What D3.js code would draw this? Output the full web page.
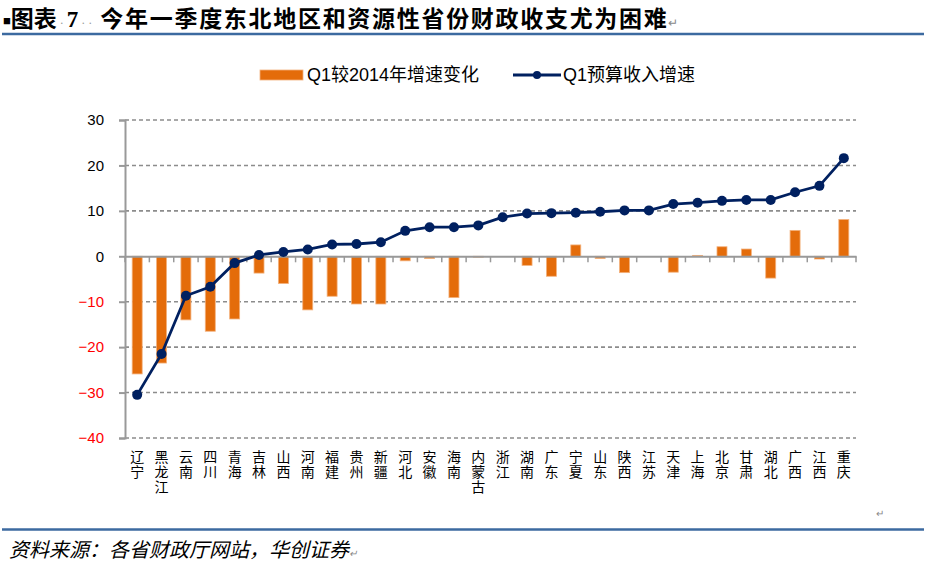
<!DOCTYPE html>
<html><head><meta charset="utf-8">
<script src="https://cdn.jsdelivr.net/npm/d3@7"></script>
<style>
html,body{margin:0;padding:0;background:#fff;}
svg{display:block;}
</style></head>
<body>
<svg id="c" width="926" height="562"></svg>
<script>
const provinces = ["辽宁","黑龙江","云南","四川","青海","吉林","山西","河南","福建","贵州","新疆","河北","安徽","海南","内蒙古","浙江","湖南","广东","宁夏","山东","陕西","江苏","天津","上海","北京","甘肃","湖北","广西","江西","重庆"];
const changeVs2014 = [-25.9,-23.5,-14.0,-16.5,-13.8,-3.7,-6.0,-11.8,-8.8,-10.5,-10.5,-1.0,-0.5,-9.1,-0.2,0,-2.0,-4.4,2.5,-0.5,-3.6,0,-3.5,0.2,2.1,1.6,-4.8,5.7,-0.6,8.1];
const budgetGrowth = [-30.5,-21.5,-8.7,-6.7,-1.5,0.3,0.95,1.5,2.6,2.7,3.1,5.6,6.4,6.4,6.8,8.6,9.4,9.5,9.6,9.8,10.1,10.1,11.5,11.8,12.2,12.4,12.4,14.1,15.5,21.6];
const yTicks = [30,20,10,0,-10,-20,-30,-40];
const seriesNames = ["Q1较2014年增速变化","Q1预算收入增速"];
const titleText = "今年一季度东北地区和资源性省份财政收支尤为困难";
const sourceText = "资料来源：各省财政厅网站，华创证券";

const svg = d3.select("#c");
const CJK = "'Liberation Sans', Arial, 'Noto Sans CJK SC', sans-serif";

// Title
const t = svg.append("text").attr("x",3).attr("y",27)
  .attr("font-family","'Liberation Serif','Noto Sans CJK SC',serif").attr("font-size",23).attr("fill","#000");
t.append("tspan").attr("font-size",13).attr("dy",-2).text("■");
t.append("tspan").attr("dy",2).attr("font-family","'Noto Sans CJK SC'").attr("font-weight","bold").text("图表");
t.append("tspan").attr("fill","#999").attr("font-size",12).attr("dx",3).text("·");
t.append("tspan").attr("font-weight","bold").attr("dx",3).text("7");
t.append("tspan").attr("fill","#999").attr("font-size",12).attr("dx",3).attr("letter-spacing",3).text("··");
t.append("tspan").attr("font-family","'Noto Sans CJK SC'").attr("font-weight","bold").attr("dx",5).attr("letter-spacing",1.7).text(titleText);
t.append("tspan").attr("fill","#888").attr("font-size",12).text("↵");

svg.append("line").attr("x1",2).attr("x2",924).attr("y1",34).attr("y2",34)
  .attr("stroke","#3C6AA0").attr("stroke-width",2.5);
svg.append("line").attr("x1",2).attr("x2",924).attr("y1",529.5).attr("y2",529.5)
  .attr("stroke","#3C6AA0").attr("stroke-width",2.5);
svg.append("text").attr("x",876).attr("y",517).attr("font-size",10).attr("fill","#888").text("↵");

const src = svg.append("text").attr("x",9).attr("y",557)
  .attr("font-family","'Noto Sans CJK SC'").attr("font-size",20).attr("font-style","italic");
src.append("tspan").text(sourceText);
src.append("tspan").attr("fill","#888").attr("font-size",10).text("↵");

// Scales
const plot = {left:125, right:856, top:120, bottom:438};
const x = d3.scaleBand().domain(provinces).range([plot.left, plot.right]).padding(0);
const y = d3.scaleLinear().domain([-40,30]).range([plot.bottom, plot.top]);

// gridlines
svg.append("g").selectAll("line").data(yTicks.filter(d=>d!==0)).join("line")
  .attr("x1",plot.left).attr("x2",plot.right)
  .attr("y1",d=>y(d)).attr("y2",d=>y(d))
  .attr("stroke","#8c8c8c").attr("stroke-width",1.6).attr("stroke-dasharray","4,3");

// bars
const bw = 10;
svg.append("g").selectAll("rect").data(provinces).join("rect")
  .attr("x",(d)=>x(d)+x.bandwidth()/2-bw/2)
  .attr("width",bw)
  .attr("y",(d,i)=>y(Math.max(0,changeVs2014[i])))
  .attr("height",(d,i)=>Math.abs(y(changeVs2014[i])-y(0)))
  .attr("fill","#E46C0A").attr("stroke","#F3B27E").attr("stroke-width",0.8);

// y axis
const yAxis = d3.axisLeft(y).tickValues(yTicks).tickSize(6).tickPadding(15).tickFormat(d3.format("d"));
const gy = svg.append("g").attr("transform",`translate(${plot.left},0)`).call(yAxis);
gy.select(".domain").attr("stroke","#999").attr("stroke-width",2);
gy.selectAll(".tick line").attr("stroke","#999").attr("stroke-width",2);
gy.selectAll(".tick text").attr("font-family","'Liberation Sans',Arial,sans-serif").attr("font-size",15)
  .attr("fill",d=>d<0?"#FF0000":"#000");

// x axis at zero
const xAxis = d3.axisBottom(x).tickSize(0).tickFormat("");
const gx = svg.append("g").attr("transform",`translate(0,${y(0)})`).call(xAxis);
gx.select(".domain").attr("stroke","#999").attr("stroke-width",2);
// tick marks between categories
svg.append("g").selectAll("line").data(provinces.concat(["__end"])).join("line")
  .attr("x1",(d,i)=>plot.left + i*x.bandwidth()).attr("x2",(d,i)=>plot.left + i*x.bandwidth())
  .attr("y1",y(0)).attr("y2",y(0)+6)
  .attr("stroke","#999").attr("stroke-width",1.5);

// x labels, vertical upright
svg.append("g").selectAll("text").data(provinces).join("text")
  .attr("x",d=>x(d)+x.bandwidth()/2)
  .attr("y",450)
  .attr("text-anchor","start")
  .style("writing-mode","vertical-rl")
  .style("text-orientation","upright")
  .attr("letter-spacing",1)
  .attr("font-family","'Noto Sans CJK SC'").attr("font-size",14).attr("fill","#000")
  .text(d=>d);

// line
const line = d3.line().x((d,i)=>x(provinces[i])+x.bandwidth()/2).y(d=>y(d));
svg.append("path").datum(budgetGrowth).attr("d",line)
  .attr("fill","none").attr("stroke","#002060").attr("stroke-width",2.8);
svg.append("g").selectAll("circle").data(budgetGrowth).join("circle")
  .attr("cx",(d,i)=>x(provinces[i])+x.bandwidth()/2).attr("cy",d=>y(d)).attr("r",5)
  .attr("fill","#002060");

// legend
const lg = svg.append("g");
lg.append("rect").attr("x",260).attr("y",70).attr("width",43).attr("height",10).attr("fill","#E46C0A").attr("stroke","#F3B27E").attr("stroke-width",0.8);
lg.append("text").attr("x",307).attr("y",81).attr("font-family",CJK).attr("font-size",18).text(seriesNames[0]);
lg.append("line").attr("x1",513).attr("x2",561).attr("y1",75).attr("y2",75).attr("stroke","#002060").attr("stroke-width",2.8);
lg.append("circle").attr("cx",537).attr("cy",75).attr("r",4).attr("fill","#002060");
lg.append("text").attr("x",563).attr("y",81).attr("font-family",CJK).attr("font-size",18).text(seriesNames[1]);
</script>
</body></html>
